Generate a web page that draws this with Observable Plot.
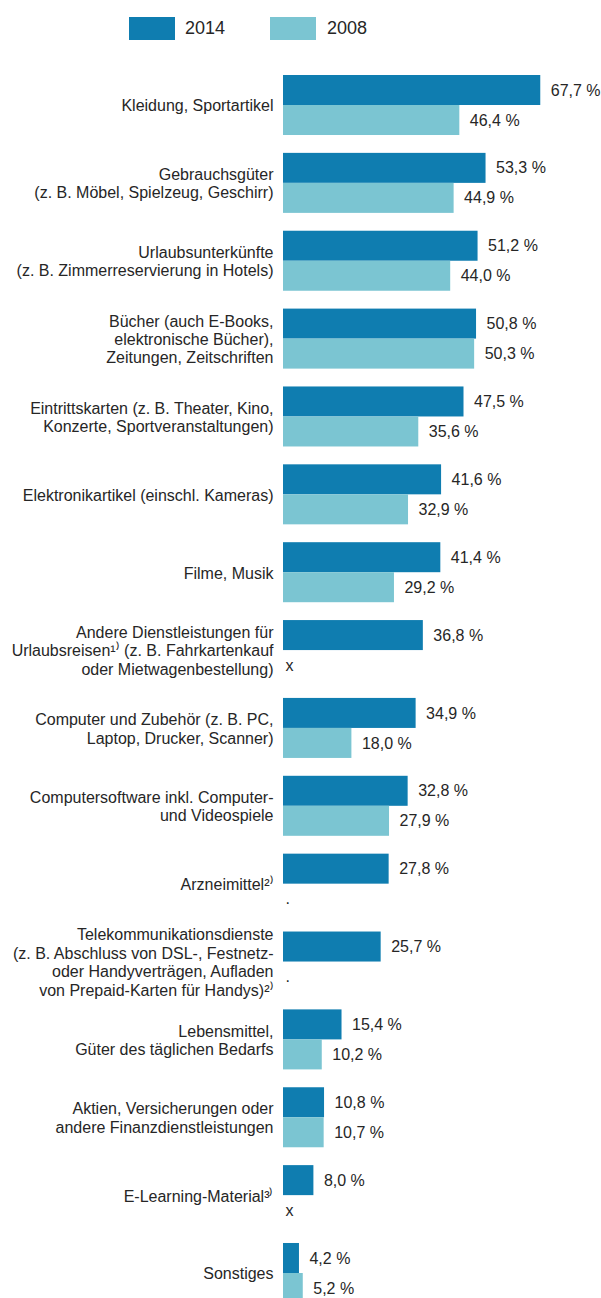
<!DOCTYPE html>
<html>
<head>
<meta charset="utf-8">
<script src="https://cdn.jsdelivr.net/npm/d3@7"></script>
<script src="https://cdn.jsdelivr.net/npm/@observablehq/plot@0.6"></script>
<style>
  html, body { margin: 0; padding: 0; background: #fff; overflow: hidden; }
  body { width: 601px; font-family: "Liberation Sans", Arial, sans-serif; }
  #legend { position: relative; height: 60px; width: 601px; }
  #legend .sw { position: absolute; top: 17px; width: 46px; height: 23px; }
  #legend .lb { position: absolute; top: 17px; height: 23px; line-height: 23px; font-size: 18px; color: #262626; }
  #chart svg { display: block; }
</style>
</head>
<body>
<div id="legend"></div>
<div id="chart"></div>
<script>
const categories = [
  "Kleidung, Sportartikel",
  "Gebrauchsgüter\n(z. B. Möbel, Spielzeug, Geschirr)",
  "Urlaubsunterkünfte\n(z. B. Zimmerreservierung in Hotels)",
  "Bücher (auch E-Books,\nelektronische Bücher),\nZeitungen, Zeitschriften",
  "Eintrittskarten (z. B. Theater, Kino,\nKonzerte, Sportveranstaltungen)",
  "Elektronikartikel (einschl. Kameras)",
  "Filme, Musik",
  "Andere Dienstleistungen für\nUrlaubsreisen¹⁾ (z. B. Fahrkartenkauf\noder Mietwagenbestellung)",
  "Computer und Zubehör (z. B. PC,\nLaptop, Drucker, Scanner)",
  "Computersoftware inkl. Computer-\nund Videospiele",
  "Arzneimittel²⁾",
  "Telekommunikationsdienste\n(z. B. Abschluss von DSL-, Festnetz-\noder Handyverträgen, Aufladen\nvon Prepaid-Karten für Handys)²⁾",
  "Lebensmittel,\nGüter des täglichen Bedarfs",
  "Aktien, Versicherungen oder\nandere Finanzdienstleistungen",
  "E-Learning-Material³⁾",
  "Sonstiges"
];
const years = ["2014", "2008"];
const values2014 = [67.7, 53.3, 51.2, 50.8, 47.5, 41.6, 41.4, 36.8, 34.9, 32.8, 27.8, 25.7, 15.4, 10.8, 8.0, 4.2];
const values2008 = [46.4, 44.9, 44.0, 50.3, 35.6, 32.9, 29.2, null, 18.0, 27.9, null, null, 10.2, 10.7, null, 5.2];
const notes2008 = ["", "", "", "", "", "", "", "x", "", "", ".", ".", "", "", "x", ""];
const colors = ["#0f7db0", "#7bc5d2"];

// legend
const legend = document.getElementById("legend");
const legendPos = [{sw: 129, lb: 185}, {sw: 270, lb: 327}];
years.forEach((y, i) => {
  const s = document.createElement("div");
  s.className = "sw"; s.style.left = legendPos[i].sw + "px"; s.style.background = colors[i];
  const l = document.createElement("div");
  l.className = "lb"; l.style.left = legendPos[i].lb + "px"; l.textContent = y;
  legend.appendChild(s); legend.appendChild(l);
});

const rows = [];
categories.forEach((c, i) => {
  rows.push({cat: c, year: "2014", value: values2014[i]});
  if (values2008[i] != null) rows.push({cat: c, year: "2008", value: values2008[i]});
});
const notes = categories.map((c, i) => ({cat: c, year: "2008", note: notes2008[i]})).filter(d => d.note);
const labels = categories.map(c => ({cat: c}));
const fmt = v => v.toFixed(1).replace(".", ",") + " %";

const chart = Plot.plot({
  width: 601,
  height: 1243,
  marginLeft: 283,
  marginRight: 14,
  marginTop: 15,
  marginBottom: 0,
  style: {fontFamily: "'Liberation Sans', Arial, sans-serif", color: "#262626", background: "#fff"},
  x: {domain: [0, 80], axis: null},
  y: {domain: years, padding: 0, round: false, axis: null},
  fy: {domain: categories, paddingInner: 0.2293, paddingOuter: 0, round: false, axis: null},
  color: {domain: years, range: colors},
  marks: [
    Plot.barX(rows, {fy: "cat", y: "year", x: "value", fill: "year"}),
    Plot.text(rows, {fy: "cat", y: "year", x: "value", text: d => fmt(d.value), dx: 10, textAnchor: "start", fontSize: 16, fill: "#262626"}),
    Plot.text(notes, {fy: "cat", y: "year", x: 0, text: "note", dx: 2, textAnchor: "start", fontSize: 16, fill: "#262626"}),
    Plot.text(labels, {fy: "cat", x: 0, text: "cat", dx: -10, textAnchor: "end", fontSize: 16, lineHeight: 1.15, fill: "#262626"})
  ]
});
document.getElementById("chart").appendChild(chart);
</script>
</body>
</html>
